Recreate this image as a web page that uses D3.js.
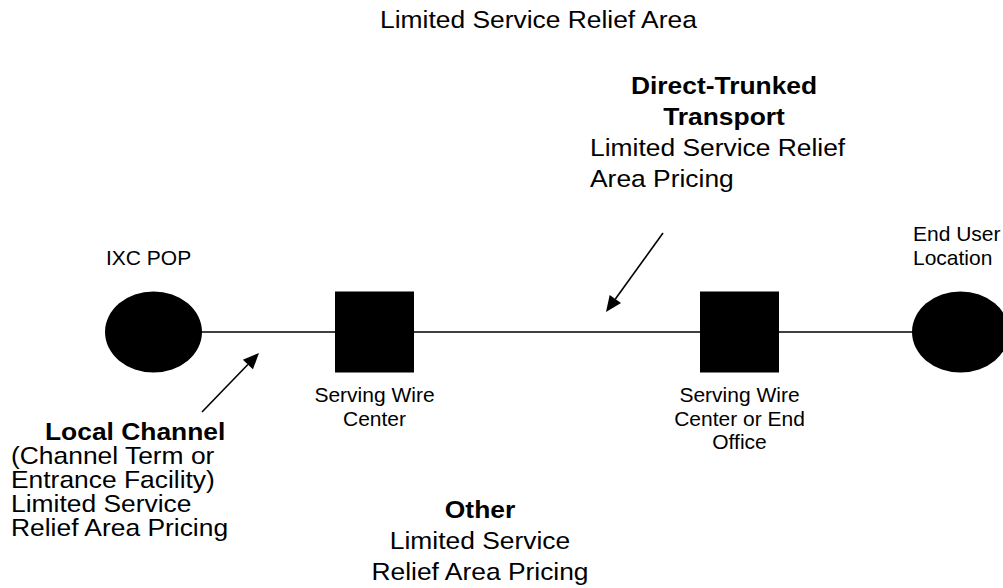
<!DOCTYPE html>
<html>
<head>
<meta charset="utf-8">
<script src="https://cdn.jsdelivr.net/npm/d3@7"></script>
<style>
	body { margin: 0; background: #fff; }
	text { font-family: "Liberation Sans", Arial, sans-serif; fill: #000; }
</style>
</head>
<body>
<div id="chart"></div>
<script>
let title = "Limited Service Relief Area";

let nodeKinds = ["ellipse", "square", "square", "ellipse"];
let nodeLabels = [
	["IXC POP"],
	["Serving Wire", "Center"],
	["Serving Wire", "Center or End", "Office"],
	["End User", "Location"],
];

let calloutHeads = [["Direct-Trunked", "Transport"], ["Local Channel"], ["Other"]];
let calloutBodies = [
	["Limited Service Relief", "Area Pricing"],
	["(Channel Term or", "Entrance Facility)", "Limited Service", "Relief Area Pricing"],
	["Limited Service", "Relief Area Pricing"],
];

var w = 1003,
	h = 588,
	lineY = 332,
	rx = 48.5,
	ry = 40.5,
	sqW = 79,
	sqH = 81,
	bigFont = 24,
	smallFont = 21,
	stretch = 1.1;

// node centres along the route
let nodeX = d3.scaleOrdinal().domain(d3.range(nodeKinds.length)).range([153.5, 374.5, 739.5, 960.5]);

let svg = d3
	.select("#chart")
	.append("svg")
	.attr("width", w)
	.attr("height", h);

// title
svg.append("text")
	.attr("transform", "translate(380,28) scale(" + stretch + ",1)")
	.style("font-size", bigFont + "px")
	.text(title);

// route line
svg.append("line")
	.attr("x1", nodeX(0))
	.attr("x2", nodeX(nodeKinds.length - 1))
	.attr("y1", lineY)
	.attr("y2", lineY)
	.attr("stroke", "#000")
	.attr("stroke-width", 1.6);

let nodes = svg
	.selectAll("g.node")
	.data(nodeKinds)
	.enter()
	.append("g")
	.attr("class", "node")
	.attr("transform", (d, i) => "translate(" + nodeX(i) + "," + lineY + ")");

nodes.filter((d) => d === "ellipse")
	.append("ellipse")
	.attr("rx", rx)
	.attr("ry", ry)
	.attr("fill", "#000");

nodes.filter((d) => d === "square")
	.append("rect")
	.attr("x", -sqW / 2)
	.attr("y", -sqH / 2)
	.attr("width", sqW)
	.attr("height", sqH)
	.attr("fill", "#000");

// node labels: ellipses labelled above (left aligned), squares below (centred)
nodes.each(function (kind, i) {
	let g = d3.select(this);
	let lines = nodeLabels[i];
	let t = g.append("text").style("font-size", smallFont + "px");
	if (kind === "ellipse") {
		t.attr("text-anchor", "start");
		t.selectAll("tspan")
			.data(lines)
			.enter()
			.append("tspan")
			.attr("x", -rx + 1)
			.attr("y", (d, j) => -67 - (lines.length - 1 - j) * 24.5)
			.text((d) => d);
	} else {
		t.attr("text-anchor", "middle");
		t.selectAll("tspan")
			.data(lines)
			.enter()
			.append("tspan")
			.attr("x", 0)
			.attr("y", (d, j) => 70 + j * 23.5)
			.text((d) => d);
	}
});

// callout text blocks
let callouts = [
	{ head: { x: 724, anchor: "middle" }, body: { x: 590, anchor: "start" }, y: 94, step: 31 },
	{ head: { x: 45, anchor: "start" }, body: { x: 11, anchor: "start" }, y: 440, step: 24 },
	{ head: { x: 480, anchor: "middle" }, body: { x: 480, anchor: "middle" }, y: 518, step: 31 },
];

callouts.forEach(function (c, k) {
	let rows = calloutHeads[k]
		.map((s) => ({ s: s, bold: true }))
		.concat(calloutBodies[k].map((s) => ({ s: s, bold: false })));
	rows.forEach(function (r, j) {
		let pos = r.bold ? c.head : c.body;
		svg.append("text")
			.attr("transform", "translate(" + pos.x + "," + (c.y + j * c.step) + ") scale(" + stretch + ",1)")
			.attr("text-anchor", pos.anchor)
			.style("font-size", bigFont + "px")
			.style("font-weight", r.bold ? "bold" : "normal")
			.text(r.s);
	});
});

// arrows pointing at the route
let arrows = [
	{ from: [202, 412], to: [259, 353] },
	{ from: [663, 233], to: [606, 312] },
];

arrows.forEach(function (a) {
	let dx = a.to[0] - a.from[0],
		dy = a.to[1] - a.from[1],
		len = Math.sqrt(dx * dx + dy * dy),
		ux = dx / len,
		uy = dy / len,
		headL = 16,
		headW = 7;
	let bx = a.to[0] - ux * headL,
		by = a.to[1] - uy * headL;
	svg.append("line")
		.attr("x1", a.from[0])
		.attr("y1", a.from[1])
		.attr("x2", bx)
		.attr("y2", by)
		.attr("stroke", "#000")
		.attr("stroke-width", 1.6);
	svg.append("path")
		.attr("d", d3.line()([
			a.to,
			[bx - uy * headW, by + ux * headW],
			[bx + uy * headW, by - ux * headW],
		]) + "Z")
		.attr("fill", "#000");
});
</script>
</body>
</html>
